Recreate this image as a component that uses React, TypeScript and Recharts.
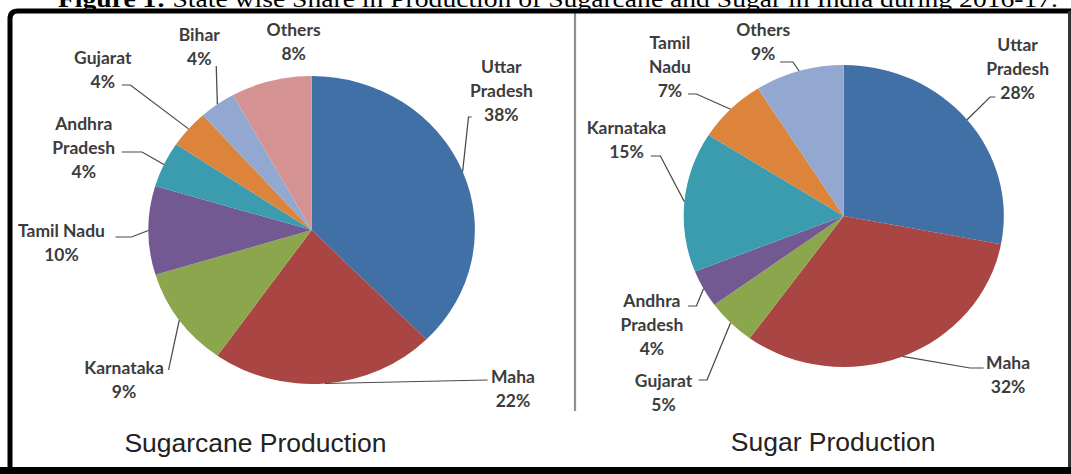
import { PieChart, Pie, Cell } from "recharts";

const sugarcaneStates = ["Uttar Pradesh", "Maha", "Karnataka", "Tamil Nadu", "Andhra Pradesh", "Gujarat", "Bihar", "Others"];
const sugarcaneShare = [37.6, 22.2, 10.5, 9.3, 4.8, 4.0, 3.6, 8.0];
const sugarcanePrinted = ["38%", "22%", "9%", "10%", "4%", "4%", "4%", "8%"];

const sugarStates = ["Uttar Pradesh", "Maha", "Gujarat", "Andhra Pradesh", "Karnataka", "Tamil Nadu", "Others"];
const sugarShare = [28, 32, 5, 4, 15, 7, 9];
const sugarPrinted = ["28%", "32%", "5%", "4%", "15%", "7%", "9%"];

const stateColors: Record<string, string> = {
    "Uttar Pradesh": "#4170A6",
    "Maha": "#A94542",
    "Karnataka": "#8BA64C",
    "Tamil Nadu": "#735992",
    "Andhra Pradesh": "#3B9BAF",
    "Gujarat": "#DC843B",
    "Bihar": "#93A8D0",
    "Others": "#D49392",
};
const sugarColors = ["#4170A6", "#A94542", "#8BA64C", "#735992", "#3B9BAF", "#DC843B", "#93A8D0"];

// label layout, relative to pie centre: [textX, textY, leaderX, leaderY, elbow, wrap]
type LabelPos = [number, number, number | null, number | null, number, boolean];
const sugarcaneLabelPos: LabelPos[] = [
    [179, -139, 151, -113, 3, true],
    [190, 159, 166, 150, 0, false],
    [-177, 150, -135, 140, 0, false],
    [-236, 13, -185, 7, 15, false],
    [-215, -82, -179, -78, 19, true],
    [-197, -160, -179, -145, 8, false],
    [-106, -183, -90, -164, 0, false],
    [-17, -188, null, null, 0, false],
];
const sugarLabelPos: LabelPos[] = [
    [164, -147, 143, -119, 5, true],
    [155, 159, 132, 152, 13, false],
    [-170, 177, -137, 164, 8, false],
    [-181, 109, -147, 90, 8, true],
    [-205, -76, -182, -60, 9, false],
    [-164, -149, -147, -122, 8, true],
    [-76, -174, -60, -154, 12, false],
];

const SCALE_X = 1.06;
const INNER_W = Math.round(1071 / SCALE_X);
const RAD = Math.PI / 180;

function splitName(name: string, wrap: boolean) {
    if (!wrap) return [name];
    const i = name.indexOf(" ");
    return i < 0 ? [name] : [name.slice(0, i), name.slice(i + 1)];
}

function makeLabel(names: string[], printed: string[], layout: LabelPos[]) {
    return (p: any) => {
        const { cx, cy, midAngle, outerRadius, index } = p;
        const [tx, ty, ax, ay, elbow, wrap] = layout[index];
        const lines = [...splitName(names[index], wrap), printed[index]];
        const ex = cx + outerRadius * Math.cos(-midAngle * RAD);
        const ey = cy + outerRadius * Math.sin(-midAngle * RAD);
        let leader = null;
        if (ax !== null && ay !== null) {
            const sx = cx + ax;
            const sy = cy + ay;
            const dir = ex > sx ? 1 : -1;
            leader = (
                <path d={`M${sx},${sy}H${sx + dir * elbow}L${ex},${ey}`} fill="none" stroke="#4a4a4a" strokeWidth={1.2} />
            );
        }
        return (
            <g key={`lbl-${index}`}>
                {leader}
                {lines.map((t, i) => (
                    <text
                        key={i}
                        x={cx + tx}
                        y={cy + ty + (i - (lines.length - 1) / 2) * 24}
                        textAnchor="middle"
                        dominantBaseline="central"
                        fontFamily="Lato, 'Open Sans', sans-serif"
                        fontWeight={700}
                        fontSize={16.5}
                        fill="#3c3c3c"
                    >
                        {t}
                    </text>
                ))}
            </g>
        );
    };
}

const sugarcaneData = sugarcaneStates.map((s, i) => ({ name: s, value: sugarcaneShare[i] }));
const sugarData = sugarStates.map((s, i) => ({ name: s, value: sugarShare[i] }));

export default function App() {
    return (
        <div style={{ position: "absolute", left: 0, top: 0, width: 1071, height: 474, background: "#fff", overflow: "hidden" }}>
            <div style={{ position: "absolute", left: 0, top: 0, width: INNER_W, height: 474, transform: `scaleX(${SCALE_X})`, transformOrigin: "0 0" }}>
                <PieChart width={INNER_W} height={474} margin={{ top: 0, right: 0, bottom: 0, left: 0 }}>
                    <Pie
                        data={sugarcaneData}
                        dataKey="value"
                        cx={294}
                        cy={230}
                        outerRadius={154}
                        startAngle={90}
                        endAngle={-270}
                        stroke="none"
                        labelLine={false}
                        label={makeLabel(sugarcaneStates, sugarcanePrinted, sugarcaneLabelPos)}
                        isAnimationActive={false}
                    >
                        {sugarcaneData.map((d) => (
                            <Cell key={d.name} fill={stateColors[d.name]} />
                        ))}
                    </Pie>
                    <Pie
                        data={sugarData}
                        dataKey="value"
                        cx={796}
                        cy={216}
                        outerRadius={151}
                        startAngle={90}
                        endAngle={-270}
                        stroke="none"
                        labelLine={false}
                        label={makeLabel(sugarStates, sugarPrinted, sugarLabelPos)}
                        isAnimationActive={false}
                    >
                        {sugarData.map((d, i) => (
                            <Cell key={d.name} fill={sugarColors[i]} />
                        ))}
                    </Pie>
                </PieChart>
                <svg width={INNER_W} height={474} style={{ position: "absolute", left: 0, top: 0, pointerEvents: "none" }}>
                    <g fontFamily="'Liberation Sans', Arial, sans-serif" fontSize={25} fill="#222" textAnchor="middle">
                        <text x={241} y={452}>Sugarcane Production</text>
                        <text x={786} y={451}>Sugar Production</text>
                    </g>
                </svg>
            </div>
            <svg width={1071} height={474} style={{ position: "absolute", left: 0, top: 0, pointerEvents: "none" }}>
                {/* the figure caption is cut off by the top edge in the source image */}
                <text x={58} y={7} fontFamily="'Liberation Serif', 'Times New Roman', serif" fontSize={24} fill="#000" textLength={1000} lengthAdjust="spacingAndGlyphs">
                    <tspan fontWeight={700}>Figure 1:</tspan>
                    <tspan> State wise Share in Production of Sugarcane and Sugar in India during 2016-17.</tspan>
                </text>
                <line x1={575} y1={13} x2={575} y2={411} stroke="#8f8f8f" strokeWidth={2.2} />
                <path d="M10,474V19Q10,11 18,11H1071" fill="none" stroke="#000" strokeWidth={5} />
                <rect x={1068} y={11} width={3} height={463} fill="#333" />
                <rect x={0} y={467} width={1071} height={7} fill="#000" />
            </svg>
        </div>
    );
}
